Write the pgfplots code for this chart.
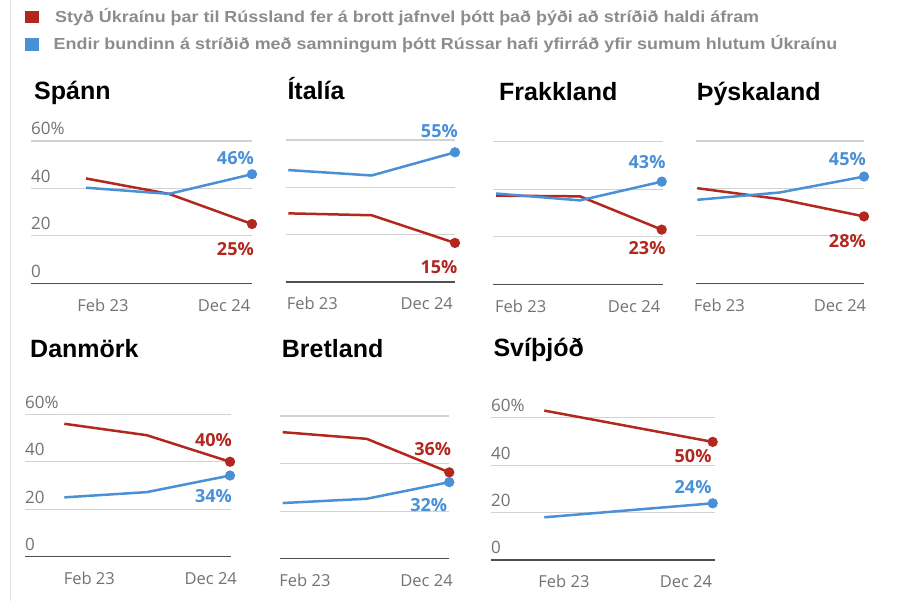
\documentclass[border=0pt]{standalone}
\usepackage{fontspec}
\setmainfont{Liberation Sans}
\newfontfamily\osans{Open Sans}
\newfontfamily\legfont[FakeStretch=1.12]{Liberation Sans}
\usepackage{pgfplots}
\pgfplotsset{compat=1.18}

\definecolor{ured}{RGB}{178,40,30}
\definecolor{ublue}{RGB}{74,144,214}
\definecolor{gridgray}{RGB}{210,210,210}
\definecolor{basegray}{RGB}{80,80,80}
\definecolor{tickgray}{RGB}{115,115,115}
\definecolor{leggray}{RGB}{140,140,140}
\definecolor{edgegray}{RGB}{225,225,225}

\pgfplotsset{
  panel/.style={
    scale only axis, anchor=south west, clip=false,
    ymin=0, ymax=60, ytick={0,20,40,60},
    ymajorgrids, grid style={line width=1.1pt, draw=gridgray},
    axis x line*=bottom, axis y line*=left,
    y axis line style={draw=none},
    x axis line style={-, draw=basegray, line width=1.4pt},
    major tick length=0pt,
    xticklabels={Feb 23, Dec 24},
    xticklabel style={anchor=base, yshift=-28pt, inner sep=0pt,
      font=\osans\fontsize{16.5}{16.5}\selectfont, text=tickgray},
    yticklabel style={anchor=base west, yshift=6pt, inner sep=0pt,
      font=\osans\fontsize{17}{17}\selectfont, text=tickgray},
    yticklabels={},
  },
  withy/.style={yticklabels={0,20,40,60\%}},
  rline/.style={color=ured, line width=2.5pt, mark=*, mark size=3.8pt, mark options={solid}},
  bline/.style={color=ublue, line width=2.5pt, mark=*, mark size=3.8pt, mark options={solid}},
}
\tikzset{vlab/.style={anchor=base east, inner sep=0pt, font=\osans\bfseries\fontsize{18}{18}\selectfont}}
\newcommand{\ttl}[1]{\fontsize{25}{25}\selectfont\bfseries #1}

\begin{document}
\begin{tikzpicture}
\useasboundingbox (0,0) rectangle (900pt,601pt);
\fill[white] (0,0) rectangle (900pt,601pt);
\draw[edgegray, line width=1.5pt] (10.5pt,0) -- (10.5pt,601pt);

% legend
\fill[ured] (25pt,578.3pt) rectangle (39pt,590.3pt);
\fill[ublue] (25pt,550pt) rectangle (39pt,563.3pt);
\node[anchor=base west, inner sep=0pt, text=leggray, font=\legfont\bfseries\fontsize{16}{16}\selectfont]
  at (55pt,578.3pt) {Styð Úkraínu þar til Rússland fer á brott jafnvel þótt það þýði að stríðið haldi áfram};
\node[anchor=base west, inner sep=0pt, text=leggray, font=\legfont\bfseries\fontsize{16}{16}\selectfont]
  at (53.5pt,551pt) {Endir bundinn á stríðið með samningum þótt Rússar hafi yfirráð yfir sumum hlutum Úkraínu};

% titles
\node[anchor=base west, inner sep=0pt] at (34pt,501pt) {\ttl{Spánn}};
\node[anchor=base west, inner sep=0pt] at (287.3pt,501pt) {\ttl{Ítalía}};
\node[anchor=base west, inner sep=0pt] at (499pt,500pt) {\ttl{Frakkland}};
\node[anchor=base west, inner sep=0pt] at (696.7pt,500pt) {\ttl{Þýskaland}};
\node[anchor=base west, inner sep=0pt] at (30pt,243.3pt) {\ttl{Danmörk}};
\node[anchor=base west, inner sep=0pt] at (281.7pt,243.3pt) {\ttl{Bretland}};
\node[anchor=base west, inner sep=0pt] at (493.3pt,244.3pt) {\ttl{Svíþjóð}};

% Spánn
\begin{axis}[panel, withy, at={(31pt,317.7pt)}, width=221pt, height=142.3pt,
  xmin=-7.29, xmax=22, xtick={2.25,18.3}]
\addplot[rline, mark indices={3}] coordinates {(0,44.2) (11,37.7) (22,25)}
  node[pos=1, vlab, text=ured, xshift=3pt, yshift=-31pt] {25\%};
\addplot[bline, mark indices={3}] coordinates {(0,40.3) (11,37.7) (22,46)}
  node[pos=1, vlab, text=ublue, xshift=3pt, yshift=9.6pt] {46\%};
\end{axis}

% Ítalía
\begin{axis}[panel, at={(286pt,319pt)}, width=169pt, height=142pt,
  xmin=-0.3, xmax=22, xtick={3.17,18.27}]
\addplot[rline, mark indices={3}] coordinates {(0,29) (11,28.2) (22,16.5)}
  node[pos=1, vlab, text=ured, xshift=3.7pt, yshift=-31pt] {15\%};
\addplot[bline, mark indices={3}] coordinates {(0,47.3) (11,45) (22,54.8)}
  node[pos=1, vlab, text=ublue, xshift=4pt, yshift=15pt] {55\%};
\end{axis}

% Frakkland
\begin{axis}[panel, at={(493.3pt,316.7pt)}, width=169.4pt, height=142.6pt,
  xmin=-0.36, xmax=22.13, xtick={3.28,18.33}]
\addplot[rline, mark indices={3}] coordinates {(0,37.3) (11.15,37) (22,23)}
  node[pos=1, vlab, text=ured, xshift=5pt, yshift=-25pt] {23\%};
\addplot[bline, mark indices={3}] coordinates {(0,38.2) (11.15,35.3) (22,43.2)}
  node[pos=1, vlab, text=ublue, xshift=5pt, yshift=13pt] {43\%};
\end{axis}

% Þýskaland
\begin{axis}[panel, at={(696pt,317.7pt)}, width=168pt, height=142.3pt,
  xmin=-0.17, xmax=22, xtick={2.9,18.83}]
\addplot[rline, mark indices={3}] coordinates {(0,40.1) (10.9,35.5) (22,28.2)}
  node[pos=1, vlab, text=ured, xshift=3pt, yshift=-31pt] {28\%};
\addplot[bline, mark indices={3}] coordinates {(0,35.2) (10.9,38.3) (22,45)}
  node[pos=1, vlab, text=ublue, xshift=3pt, yshift=11pt] {45\%};
\end{axis}

% Danmörk
\begin{axis}[panel, withy, at={(25pt,44.3pt)}, width=206pt, height=142.4pt,
  xmin=-5.22, xmax=22.13, xtick={3.32,19.44}]
\addplot[rline, mark indices={3}] coordinates {(0,56) (10.94,51.2) (22,40)}
  node[pos=1, vlab, text=ured, xshift=3pt, yshift=15pt] {40\%};
\addplot[bline, mark indices={3}] coordinates {(0,25) (10.94,27.2) (22,34.2)}
  node[pos=1, vlab, text=ublue, xshift=3pt, yshift=-26.7pt] {34\%};
\end{axis}

% Bretland
\begin{axis}[panel, at={(280pt,42.3pt)}, width=169.3pt, height=142.7pt,
  xmin=-0.36, xmax=22, xtick={2.94,19.0}]
\addplot[rline, mark indices={3}] coordinates {(0,53.2) (11.09,50.4) (22,36.3)}
  node[pos=1, vlab, text=ured, xshift=3pt, yshift=17pt] {36\%};
\addplot[bline, mark indices={3}] coordinates {(0,23.4) (11.09,25.2) (22,32.2)}
  node[pos=1, vlab, text=ublue, xshift=-1pt, yshift=-29pt] {32\%};
\end{axis}

% Svíþjóð
\begin{axis}[panel, withy, at={(491pt,41pt)}, width=224pt, height=142.3pt,
  xmin=-6.96, xmax=22.3, xtick={2.57,18.5}]
\addplot[rline, mark indices={2}] coordinates {(0,63) (22,49.8)}
  node[pos=1, vlab, text=ured, xshift=0pt, yshift=-21pt] {50\%};
\addplot[bline, mark indices={2}] coordinates {(0,18) (22,23.9)}
  node[pos=1, vlab, text=ublue, xshift=0pt, yshift=10pt] {24\%};
\end{axis}
\end{tikzpicture}
\end{document}
